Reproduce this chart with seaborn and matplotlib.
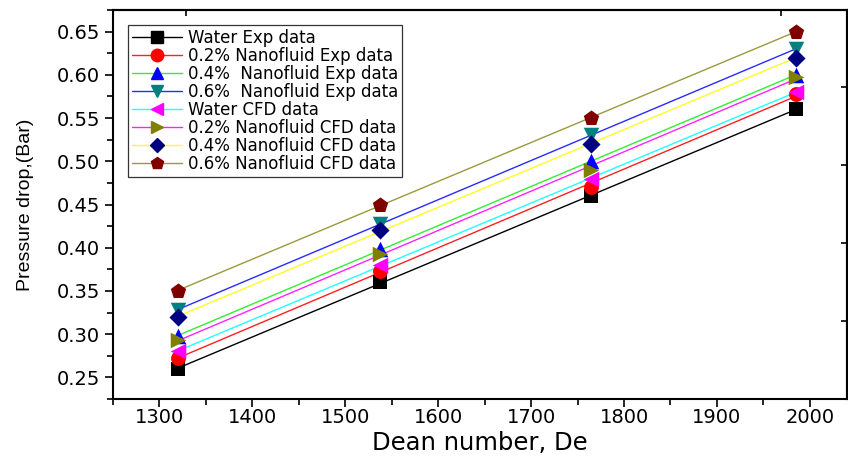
import numpy as np
import pandas as pd
import matplotlib
matplotlib.use("Agg")
import matplotlib.pyplot as plt
from matplotlib.lines import Line2D
from matplotlib.ticker import MultipleLocator, NullFormatter, FormatStrFormatter
import seaborn as sns

# Dean number at which each set was measured / simulated
dean = [1320, 1537, 1765, 1985]

# Pressure drop (bar)
water_exp = [0.260, 0.360, 0.460, 0.560]
nf02_exp = [0.273, 0.373, 0.470, 0.578]
nf04_exp = [0.298, 0.398, 0.500, 0.600]
nf06_exp = [0.328, 0.428, 0.530, 0.630]
water_cfd = [0.280, 0.380, 0.480, 0.580]
nf02_cfd = [0.293, 0.393, 0.490, 0.598]
nf04_cfd = [0.320, 0.420, 0.520, 0.620]
nf06_cfd = [0.350, 0.450, 0.550, 0.650]

labels = [
    "Water Exp data",
    "0.2% Nanofluid Exp data",
    "0.4%  Nanofluid Exp data",
    "0.6%  Nanofluid Exp data",
    "Water CFD data",
    "0.2% Nanofluid CFD data",
    "0.4% Nanofluid CFD data",
    "0.6% Nanofluid CFD data",
]
series = [water_exp, nf02_exp, nf04_exp, nf06_exp,
          water_cfd, nf02_cfd, nf04_cfd, nf06_cfd]

line_colors = ["#000000", "#ff2020", "#33ee33", "#2a2aff",
               "#22ffff", "#ff22ff", "#ffff22", "#9a9a3a"]
marker_colors = ["#000000", "#ff0000", "#0000ff", "#008080",
                 "#ff00ff", "#808000", "#000080", "#800000"]
markers = ["s", "o", "^", "v", "<", ">", "D", "p"]
sizes = [90, 115, 125, 125, 125, 125, 85, 135]

sns.set_theme(style="ticks")
plt.rcParams["font.family"] = ["DejaVu Sans"]
plt.rcParams["text.color"] = "black"
plt.rcParams["axes.labelcolor"] = "black"
plt.rcParams["xtick.color"] = "black"
plt.rcParams["ytick.color"] = "black"

fig = plt.figure(figsize=(8.48, 4.57), dpi=100)
ax = fig.add_axes([113 / 848, 1 - 399 / 457, 734 / 848, 389 / 457])

frames = []
for lab, vals in zip(labels, series):
    frames.append(pd.DataFrame({"De": dean, "dp": vals, "set": lab}))
df = pd.concat(frames, ignore_index=True)

# linear fit line for every data set, symbols drawn on top
for lab, lc, mc, mk, sz in zip(labels, line_colors, marker_colors, markers, sizes):
    sub = df[df["set"] == lab]
    sns.regplot(data=sub, x="De", y="dp", ax=ax, ci=None, scatter=False,
                line_kws=dict(color=lc, lw=1.0, zorder=2))
    sns.scatterplot(data=sub, x="De", y="dp", ax=ax, marker=mk, color=mc,
                    s=sz, linewidth=0, zorder=3, legend=False)

ax.set_xlim(1250, 2040)
ax.set_ylim(0.225, 0.675)
ax.xaxis.set_major_locator(MultipleLocator(100))
ax.xaxis.set_minor_locator(MultipleLocator(50))
ax.yaxis.set_major_locator(MultipleLocator(0.05))
ax.yaxis.set_minor_locator(MultipleLocator(0.025))
ax.yaxis.set_major_formatter(FormatStrFormatter("%.2f"))
ax.tick_params(axis="both", which="major", direction="out", length=5.5,
               width=1.2, labelsize=14)
ax.tick_params(axis="x", which="major", pad=1)
ax.tick_params(axis="y", which="major", pad=4)
ax.tick_params(axis="both", which="minor", direction="out", length=4, width=1.2)
ax.tick_params(top=False, right=False, which="both")
for s in ax.spines.values():
    s.set_linewidth(1.5)
    s.set_color("black")

ax.set_xlabel("Dean number, De", fontsize=17.5, labelpad=3)
ax.set_ylabel("Pressure drop,(Bar)", fontsize=14, labelpad=16,
              family=["Liberation Sans", "DejaVu Sans"])

# secondary scales on the frame's top and right sides
top = ax.secondary_xaxis("top")
top.set_xticks([1329, 1969])
top.xaxis.set_major_formatter(NullFormatter())
top.tick_params(direction="in", length=4, width=1.2)
top.spines["top"].set_linewidth(1.5)
right = ax.secondary_yaxis("right")
right.set_yticks([0.586, 0.4956, 0.4053, 0.315])
right.yaxis.set_major_formatter(NullFormatter())
right.tick_params(direction="in", length=4, width=1.2)
right.spines["right"].set_linewidth(1.5)

handles = [
    Line2D([], [], color=lc, lw=1.0, marker=mk, markersize=9 if mk != "D" else 7.5,
           markerfacecolor=mc, markeredgecolor=mc)
    for lc, mc, mk in zip(line_colors, marker_colors, markers)
]
leg = ax.legend(handles, labels, loc="upper left",
                bbox_to_anchor=(15 / 734, 1 - 15 / 389), borderaxespad=0,
                fontsize=12, frameon=True, fancybox=False, framealpha=1,
                edgecolor="#333333", handlelength=3.0, handletextpad=0.35,
                labelspacing=0.0, borderpad=0.25)
leg.get_frame().set_linewidth(0.9)

fig.savefig("out.png", dpi=100)
